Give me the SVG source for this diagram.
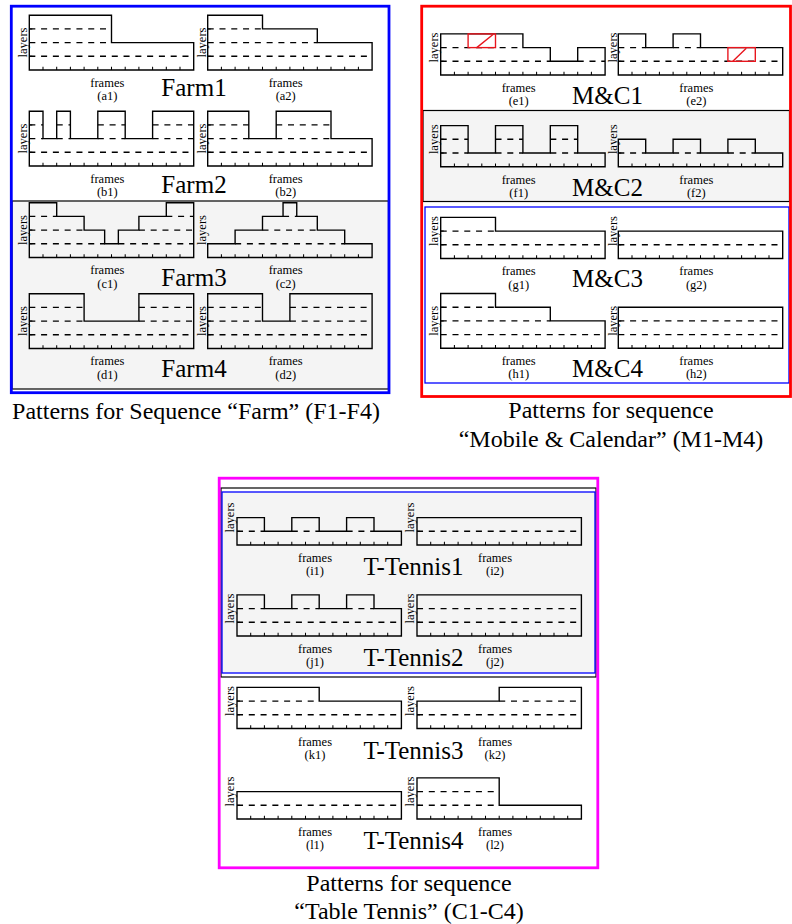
<svg xmlns="http://www.w3.org/2000/svg" xmlns:xlink="http://www.w3.org/1999/xlink" width="792" height="924" viewBox="0 0 792 924">
<style>
.o{fill:none;stroke:#000;stroke-width:0.1}
.t{fill:none;stroke:#000;stroke-width:0.075}
.d{fill:none;stroke:#000;stroke-width:0.1;stroke-dasharray:0.44 0.42}
.hr{fill:none;stroke:#e8141c;stroke-width:0.1}
.lb{font-family:"Liberation Serif","Times New Roman",serif;font-size:12.5px;text-anchor:middle;fill:#000}
.big{font-family:"Liberation Serif","Times New Roman",serif;font-size:25px;text-anchor:middle;fill:#000}
.cap{font-family:"Liberation Serif","Times New Roman",serif;font-size:24px;text-anchor:middle;fill:#000}
</style>
<defs>
<path id="bt" fill="none" stroke="#000" stroke-width="0.075" d="M1,0v-.24M2,0v-.24M3,0v-.24M4,0v-.24M5,0v-.24M6,0v-.24M7,0v-.24M8,0v-.24M9,0v-.24M10,0v-.24M11,0v-.24"/>
</defs>
<rect width="792" height="924" fill="#fff"/>

<g id="panel-farm">
<rect x="12" y="201" width="376.5" height="188" fill="#f4f4f4" stroke="#000" stroke-width="1.2"/>
<rect x="11.3" y="6.2" width="377.7" height="386.5" fill="none" stroke="#0000ff" stroke-width="2.8"/>
<text class="big" x="194" y="96">Farm1</text>
<text class="big" x="194" y="193">Farm2</text>
<text class="big" x="194" y="286">Farm3</text>
<text class="big" x="194" y="377">Farm4</text>
<text class="cap" x="196" y="419">Patterns for Sequence “Farm” (F1-F4)</text>
</g>

<g id="panel-mc">
<rect x="423" y="110.5" width="366.5" height="91" fill="#f4f4f4" stroke="#000" stroke-width="1.2"/>
<rect x="425" y="207" width="364" height="176" fill="none" stroke="#0000ff" stroke-width="1.3"/>
<rect x="421.7" y="6.2" width="368.8" height="390.3" fill="none" stroke="#ff0000" stroke-width="2.8"/>
<text class="big" x="607.5" y="103.5">M&amp;C1</text>
<text class="big" x="607.5" y="195.5">M&amp;C2</text>
<text class="big" x="607.5" y="287">M&amp;C3</text>
<text class="big" x="607.5" y="377">M&amp;C4</text>
<text class="cap" x="611" y="418">Patterns for sequence</text>
<text class="cap" x="611" y="447">“Mobile &amp; Calendar” (M1-M4)</text>
</g>

<g id="panel-tt">
<rect x="221" y="488" width="375" height="189" fill="none" stroke="#000" stroke-width="1.2"/>
<rect x="222" y="492" width="373" height="181" fill="#f4f4f4" stroke="#0000ff" stroke-width="1.3"/>
<rect x="219.2" y="478.2" width="378.6" height="389.6" fill="none" stroke="#ff00ff" stroke-width="2.8"/>
<text class="big" x="413.5" y="575">T-Tennis1</text>
<text class="big" x="413.5" y="666">T-Tennis2</text>
<text class="big" x="413.5" y="758.5">T-Tennis3</text>
<text class="big" x="413.5" y="849">T-Tennis4</text>
<text class="cap" x="409" y="891">Patterns for sequence</text>
<text class="cap" x="409" y="919">“Table Tennis” (C1-C4)</text>
</g>

<g id="a1">
<g transform="translate(29.3,70) scale(13.7)">
<path class="d" d="M0,-1H12M0,-2H6M0,-3H6"/><path class="t" d="M0,-1h.22M0,-2h.22M0,-3h.22"/><use xlink:href="#bt"/>
<path class="o" d="M0,0V-4H6V-2H12V0Z"/></g>
<text class="lb" transform="translate(26.5,42.5) rotate(-90)">layers</text>
<text class="lb" x="107.3" y="86.8">frames</text><text class="lb" x="107.3" y="100">(a1)</text>
</g>
<g id="a2">
<g transform="translate(207.7,70) scale(13.7)">
<path class="d" d="M0,-1H12M0,-2H8M0,-3H4"/><path class="t" d="M0,-1h.22M0,-2h.22M0,-3h.22"/><use xlink:href="#bt"/>
<path class="o" d="M0,0V-4H4V-3H8V-2H12V0Z"/></g>
<text class="lb" transform="translate(205.5,42.5) rotate(-90)">layers</text>
<text class="lb" x="285.7" y="86.8">frames</text><text class="lb" x="285.7" y="100">(a2)</text>
</g>
<g id="b1">
<g transform="translate(29.3,166) scale(13.7)">
<path class="d" d="M0,-1H12M0,-2H1M2,-2H3M5,-2H7M9,-2H12M0,-3H1M2,-3H3M5,-3H7M9,-3H12"/><path class="t" d="M0,-1h.22M0,-2h.22M0,-3h.22"/><use xlink:href="#bt"/>
<path class="o" d="M0,0V-4H1V-2H2V-4H3V-2H5V-4H7V-2H9V-4H12V0Z"/></g>
<text class="lb" transform="translate(26.5,138.5) rotate(-90)">layers</text>
<text class="lb" x="107.3" y="182.8">frames</text><text class="lb" x="107.3" y="196">(b1)</text>
</g>
<g id="b2">
<g transform="translate(207.7,166) scale(13.7)">
<path class="d" d="M0,-1H12M0,-2H3M5,-2H9M0,-3H3M5,-3H9"/><path class="t" d="M0,-1h.22M0,-2h.22M0,-3h.22"/><use xlink:href="#bt"/>
<path class="o" d="M0,0V-4H3V-2H5V-4H9V-2H12V0Z"/></g>
<text class="lb" transform="translate(205.5,138.5) rotate(-90)">layers</text>
<text class="lb" x="285.7" y="182.8">frames</text><text class="lb" x="285.7" y="196">(b2)</text>
</g>
<g id="c1">
<g transform="translate(29.3,257.5) scale(13.7)">
<path class="d" d="M0,-1H5.5M6.5,-1H12M0,-2H4M8,-2H12M0,-3H2M10,-3H12"/><path class="t" d="M0,-1h.22M0,-2h.22M0,-3h.22"/><use xlink:href="#bt"/>
<path class="o" d="M0,0V-4H2V-3H4V-2H5.5V-1H6.5V-2H8V-3H10V-4H12V0Z"/></g>
<text class="lb" transform="translate(26.5,230) rotate(-90)">layers</text>
<text class="lb" x="107.3" y="274.3">frames</text><text class="lb" x="107.3" y="287.5">(c1)</text>
</g>
<g id="c2">
<g transform="translate(207.7,257.5) scale(13.7)">
<path class="d" d="M2,-1H10M4,-2H8M5.5,-3H6.5"/><use xlink:href="#bt"/>
<path class="o" d="M0,0V-1H2V-2H4V-3H5.5V-4H6.5V-3H8V-2H10V-1H12V0Z"/></g>
<text class="lb" transform="translate(205.5,230) rotate(-90)">layers</text>
<text class="lb" x="285.7" y="274.3">frames</text><text class="lb" x="285.7" y="287.5">(c2)</text>
</g>
<g id="d1">
<g transform="translate(29.3,348.5) scale(13.7)">
<path class="d" d="M0,-1H12M0,-2H4M8,-2H12M0,-3H4M8,-3H12"/><path class="t" d="M0,-1h.22M0,-2h.22M0,-3h.22"/><use xlink:href="#bt"/>
<path class="o" d="M0,0V-4H4V-2H8V-4H12V0Z"/></g>
<text class="lb" transform="translate(26.5,321) rotate(-90)">layers</text>
<text class="lb" x="107.3" y="365.3">frames</text><text class="lb" x="107.3" y="378.5">(d1)</text>
</g>
<g id="d2">
<g transform="translate(207.7,348.5) scale(13.7)">
<path class="d" d="M0,-1H12M0,-2H4M6,-2H12M0,-3H4M6,-3H12"/><path class="t" d="M0,-1h.22M0,-2h.22M0,-3h.22"/><use xlink:href="#bt"/>
<path class="o" d="M0,0V-4H4V-2H6V-4H12V0Z"/></g>
<text class="lb" transform="translate(205.5,321) rotate(-90)">layers</text>
<text class="lb" x="285.7" y="365.3">frames</text><text class="lb" x="285.7" y="378.5">(d2)</text>
</g>

<g id="e1">
<g transform="translate(440.7,75) scale(13.7)">
<path class="d" d="M0,-1H8M10,-1H12M0,-2H6"/><path class="t" d="M0,-1h.22M0,-2h.22"/><use xlink:href="#bt"/>
<path class="o" d="M0,0V-3H6V-2H8V-1H10V-2H12V0Z"/>
<rect class="hr" x="2" y="-3" width="2" height="1"/><path class="hr" d="M2.63,-2L3.84,-2.97"/></g>
<text class="lb" transform="translate(437.5,47.5) rotate(-90)">layers</text>
<text class="lb" x="518.7" y="91.8">frames</text><text class="lb" x="518.7" y="105">(e1)</text>
</g>
<g id="e2">
<g transform="translate(618.3,75) scale(13.7)">
<path class="d" d="M0,-1H12M0,-2H2M4,-2H6"/><path class="t" d="M0,-1h.22M0,-2h.22"/><use xlink:href="#bt"/>
<path class="o" d="M0,0V-3H2V-2H4V-3H6V-2H12V0Z"/>
<rect class="hr" x="8" y="-2" width="2" height="1"/><path class="hr" d="M8.36,-1L9.34,-1.95"/></g>
<text class="lb" transform="translate(617,47.5) rotate(-90)">layers</text>
<text class="lb" x="696.3" y="91.8">frames</text><text class="lb" x="696.3" y="105">(e2)</text>
</g>
<g id="f1">
<g transform="translate(440.7,166.7) scale(13.7)">
<path class="d" d="M0,-1H2M4,-1H6M8,-1H10M0,-2H2M4,-2H6M8,-2H10"/><path class="t" d="M0,-1h.22M0,-2h.22"/><use xlink:href="#bt"/>
<path class="o" d="M0,0V-3H2V-1H4V-3H6V-1H8V-3H10V-1H12V0Z"/></g>
<text class="lb" transform="translate(437.5,139.2) rotate(-90)">layers</text>
<text class="lb" x="518.7" y="183.5">frames</text><text class="lb" x="518.7" y="196.7">(f1)</text>
</g>
<g id="f2">
<g transform="translate(618.3,166.7) scale(13.7)">
<path class="d" d="M0,-1H2M4,-1H6M8,-1H10"/><path class="t" d="M0,-1h.22"/><use xlink:href="#bt"/>
<path class="o" d="M0,0V-2H2V-1H4V-2H6V-1H8V-2H10V-1H12V0Z"/></g>
<text class="lb" transform="translate(617,139.2) rotate(-90)">layers</text>
<text class="lb" x="696.3" y="183.5">frames</text><text class="lb" x="696.3" y="196.7">(f2)</text>
</g>
<g id="g1">
<g transform="translate(440.7,258.5) scale(13.7)">
<path class="d" d="M0,-1H12M0,-2H4"/><path class="t" d="M0,-1h.22M0,-2h.22"/><use xlink:href="#bt"/>
<path class="o" d="M0,0V-3H4V-2H12V0Z"/></g>
<text class="lb" transform="translate(437.5,231) rotate(-90)">layers</text>
<text class="lb" x="518.7" y="275.3">frames</text><text class="lb" x="518.7" y="288.5">(g1)</text>
</g>
<g id="g2">
<g transform="translate(618.3,258.5) scale(13.7)">
<path class="d" d="M0,-1H12"/><path class="t" d="M0,-1h.22"/><use xlink:href="#bt"/>
<path class="o" d="M0,0V-2H12V0Z"/></g>
<text class="lb" transform="translate(617,231) rotate(-90)">layers</text>
<text class="lb" x="696.3" y="275.3">frames</text><text class="lb" x="696.3" y="288.5">(g2)</text>
</g>
<g id="h1">
<g transform="translate(440.7,348.3) scale(13.7)">
<path class="d" d="M0,-1H12M0,-2H8M0,-3H4"/><path class="t" d="M0,-1h.22M0,-2h.22M0,-3h.22"/><use xlink:href="#bt"/>
<path class="o" d="M0,0V-4H4V-3H8V-2H12V0Z"/></g>
<text class="lb" transform="translate(437.5,320.8) rotate(-90)">layers</text>
<text class="lb" x="518.7" y="365.1">frames</text><text class="lb" x="518.7" y="378.3">(h1)</text>
</g>
<g id="h2">
<g transform="translate(618.3,348.3) scale(13.7)">
<path class="d" d="M0,-1H12M0,-2H12"/><path class="t" d="M0,-1h.22M0,-2h.22"/><use xlink:href="#bt"/>
<path class="o" d="M0,0V-3H12V0Z"/></g>
<text class="lb" transform="translate(617,320.8) rotate(-90)">layers</text>
<text class="lb" x="696.3" y="365.1">frames</text><text class="lb" x="696.3" y="378.3">(h2)</text>
</g>

<g id="i1">
<g transform="translate(237,545) scale(13.7)">
<path class="d" d="M0,-1H2M4,-1H6M8,-1H10"/><path class="t" d="M0,-1h.22"/><use xlink:href="#bt"/>
<path class="o" d="M0,0V-2H2V-1H4V-2H6V-1H8V-2H10V-1H12V0Z"/></g>
<text class="lb" transform="translate(234,517.5) rotate(-90)">layers</text>
<text class="lb" x="315" y="562">frames</text><text class="lb" x="315" y="575.2">(i1)</text>
</g>
<g id="i2">
<g transform="translate(417,545) scale(13.7)">
<path class="d" d="M0,-1H12"/><path class="t" d="M0,-1h.22"/><use xlink:href="#bt"/>
<path class="o" d="M0,0V-2H12V0Z"/></g>
<text class="lb" transform="translate(414,517.5) rotate(-90)">layers</text>
<text class="lb" x="495" y="562">frames</text><text class="lb" x="495" y="575.2">(i2)</text>
</g>
<g id="j1">
<g transform="translate(237,636) scale(13.7)">
<path class="d" d="M0,-1H12M0,-2H2M4,-2H6M8,-2H10"/><path class="t" d="M0,-1h.22M0,-2h.22"/><use xlink:href="#bt"/>
<path class="o" d="M0,0V-3H2V-2H4V-3H6V-2H8V-3H10V-2H12V0Z"/></g>
<text class="lb" transform="translate(234,608.5) rotate(-90)">layers</text>
<text class="lb" x="315" y="653">frames</text><text class="lb" x="315" y="666.2">(j1)</text>
</g>
<g id="j2">
<g transform="translate(417,636) scale(13.7)">
<path class="d" d="M0,-1H12M0,-2H12"/><path class="t" d="M0,-1h.22M0,-2h.22"/><use xlink:href="#bt"/>
<path class="o" d="M0,0V-3H12V0Z"/></g>
<text class="lb" transform="translate(414,608.5) rotate(-90)">layers</text>
<text class="lb" x="495" y="653">frames</text><text class="lb" x="495" y="666.2">(j2)</text>
</g>
<g id="k1">
<g transform="translate(237,728.5) scale(13.7)">
<path class="d" d="M0,-1H12M0,-2H6"/><path class="t" d="M0,-1h.22M0,-2h.22"/><use xlink:href="#bt"/>
<path class="o" d="M0,0V-3H6V-2H12V0Z"/></g>
<text class="lb" transform="translate(234,701) rotate(-90)">layers</text>
<text class="lb" x="315" y="745.5">frames</text><text class="lb" x="315" y="758.7">(k1)</text>
</g>
<g id="k2">
<g transform="translate(417,728.5) scale(13.7)">
<path class="d" d="M0,-1H12M6,-2H12"/><path class="t" d="M0,-1h.22"/><use xlink:href="#bt"/>
<path class="o" d="M0,0V-2H6V-3H12V0Z"/></g>
<text class="lb" transform="translate(414,701) rotate(-90)">layers</text>
<text class="lb" x="495" y="745.5">frames</text><text class="lb" x="495" y="758.7">(k2)</text>
</g>
<g id="l1">
<g transform="translate(237,819) scale(13.7)">
<path class="d" d="M0,-1H12"/><path class="t" d="M0,-1h.22"/><use xlink:href="#bt"/>
<path class="o" d="M0,0V-2H12V0Z"/></g>
<text class="lb" transform="translate(234,791.5) rotate(-90)">layers</text>
<text class="lb" x="315" y="836">frames</text><text class="lb" x="315" y="849.2">(l1)</text>
</g>
<g id="l2">
<g transform="translate(417,819) scale(13.7)">
<path class="d" d="M0,-1H6M0,-2H6"/><path class="t" d="M0,-1h.22M0,-2h.22"/><use xlink:href="#bt"/>
<path class="o" d="M0,0V-3H6V-1H12V0Z"/></g>
<text class="lb" transform="translate(414,791.5) rotate(-90)">layers</text>
<text class="lb" x="495" y="836">frames</text><text class="lb" x="495" y="849.2">(l2)</text>
</g>
<g id="connectors"/>
</svg>
